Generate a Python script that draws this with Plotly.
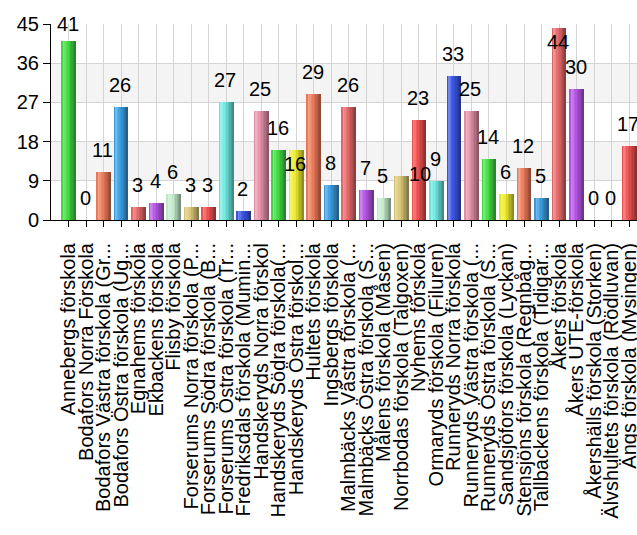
import plotly.graph_objects as go

categories = [
    "Annebergs förskola", "Bodafors Norra Förskola", "Bodafors Västra förskola (Gr...",
    "Bodafors Östra förskola (Ug...", "Egnahems förskola", "Ekbackens förskola",
    "Flisby förskola", "Forserums Norra förskola (P...", "Forserums Södra förskola (B...",
    "Forserums Östra förskola (Tr...", "Fredriksdals förskola (Mumin...", "Handskeryds Norra förskol",
    "Handskeryds Södra förskola(...", "Handskeryds Östra förskol...", "Hultets förskola",
    "Ingsbergs förskola", "Malmbäcks Västra förskola (...", "Malmbäcks Östra förskola (S...",
    "Målens förskola (Måsen)", "Norrbodas förskola (Talgoxen)", "Nyhems förskola",
    "Ormaryds förskola (Filuren)", "Runneryds Norra förskola", "Runneryds Västra förskola (...",
    "Runneryds Östra förskola (S...", "Sandsjöfors förskola (Lyckan)", "Stensjöns förskola (Regnbåg...",
    "Tallbackens förskola (Tidigar...", "Åkers förskola", "Åkers UTE-förskola",
    "Åkershälls förskola (Storken)", "Älvshultets förskola (Rödluvan)", "Ängs förskola (Mysingen)",
]
values = [41, 0, 11, 26, 3, 4, 6, 3, 3, 27, 2, 25, 16, 16, 29, 8, 26, 7, 5, 10, 23, 9,
          33, 25, 14, 6, 12, 5, 44, 30, 0, 0, 17]
y_ticks = [0, 9, 18, 27, 36, 45]

# 12-colour cycle (mid tones)
palette = ["#44dd44", "#eeee30", "#f07c5c", "#3a9ee0", "#e66a6a", "#b656e6",
           "#c6eecf", "#dcc878", "#f05252", "#6eeae2", "#3a56e6", "#e692aa"]
bar_colors = [palette[i % len(palette)] for i in range(len(categories))]

# label placement tweaks (pixels) for overlapping labels
label_yshift = {0: 17, 13: -14, 28: -14, 19: 2}
label_xshift = {19: 19}


def shade(hex_color, f):
    h = hex_color.lstrip("#")
    r, g, b = (int(h[i:i + 2], 16) for i in (0, 2, 4))
    if f >= 1:
        t = f - 1
        r, g, b = (c + (255 - c) * t for c in (r, g, b))
    else:
        r, g, b = (c * f for c in (r, g, b))
    return "rgb(%d,%d,%d)" % (round(r), round(g), round(b))


fig = go.Figure()

BAR_W = 0.84
N = 10
profile = [0.97, 1.28, 1.18, 1.05, 0.98, 0.9, 0.82, 0.75, 0.68, 0.6]
for k in range(N):
    off = -BAR_W / 2 + k * BAR_W / N
    fig.add_trace(go.Bar(
        x=categories, y=values,
        offset=off, width=BAR_W / 2 - off,
        marker=dict(color=[shade(c, profile[k]) for c in bar_colors], line=dict(width=0)),
        showlegend=False, hoverinfo="skip" if k else "x+y",
    ))

for i, (c, v) in enumerate(zip(categories, values)):
    fig.add_annotation(
        x=c, y=v, text=str(v), showarrow=False,
        yanchor="middle", xanchor="center",
        yshift=label_yshift.get(i, 22), xshift=label_xshift.get(i, -1),
        font=dict(family="Liberation Sans, Arial", size=20, color="#000"),
    )

for y0, y1 in [(9, 18), (27, 36)]:
    fig.add_shape(type="rect", xref="paper", yref="y", x0=0, x1=1, y0=y0, y1=y1,
                  fillcolor="#f4f4f4", line=dict(width=0), layer="below")

fig.update_layout(
    width=637, height=535,
    margin=dict(l=51, r=0, t=24, b=315, autoexpand=False),
    paper_bgcolor="white", plot_bgcolor="white",
    barmode="overlay", bargap=0,
    font=dict(family="Liberation Sans, Arial", color="#000"),
)
fig.update_xaxes(
    type="category", range=[-1, 32.45], tickangle=-90,
    tickmode="array", tickvals=categories, ticktext=categories,
    tickfont=dict(size=20, color="#000"), ticklabelstandoff=8,
    ticks="outside", ticklen=6, tickcolor="#000",
    showline=True, linecolor="#000", linewidth=1,
    showgrid=True, gridcolor="#d4d4d4", gridwidth=1,
    automargin=False, fixedrange=True,
)
fig.update_yaxes(
    range=[0, 45], tickvals=y_ticks,
    tickfont=dict(size=20, color="#000"),
    ticks="outside", ticklen=7, tickcolor="#000",
    showline=True, linecolor="#000", linewidth=1,
    showgrid=True, gridcolor="#d4d4d4", gridwidth=1,
    zeroline=False, automargin=False, fixedrange=True,
)

fig.write_html(
    "out.html",
    config={"displayModeBar": False},
    post_script="document.body.style.margin='0';document.body.style.overflow='hidden';",
)
